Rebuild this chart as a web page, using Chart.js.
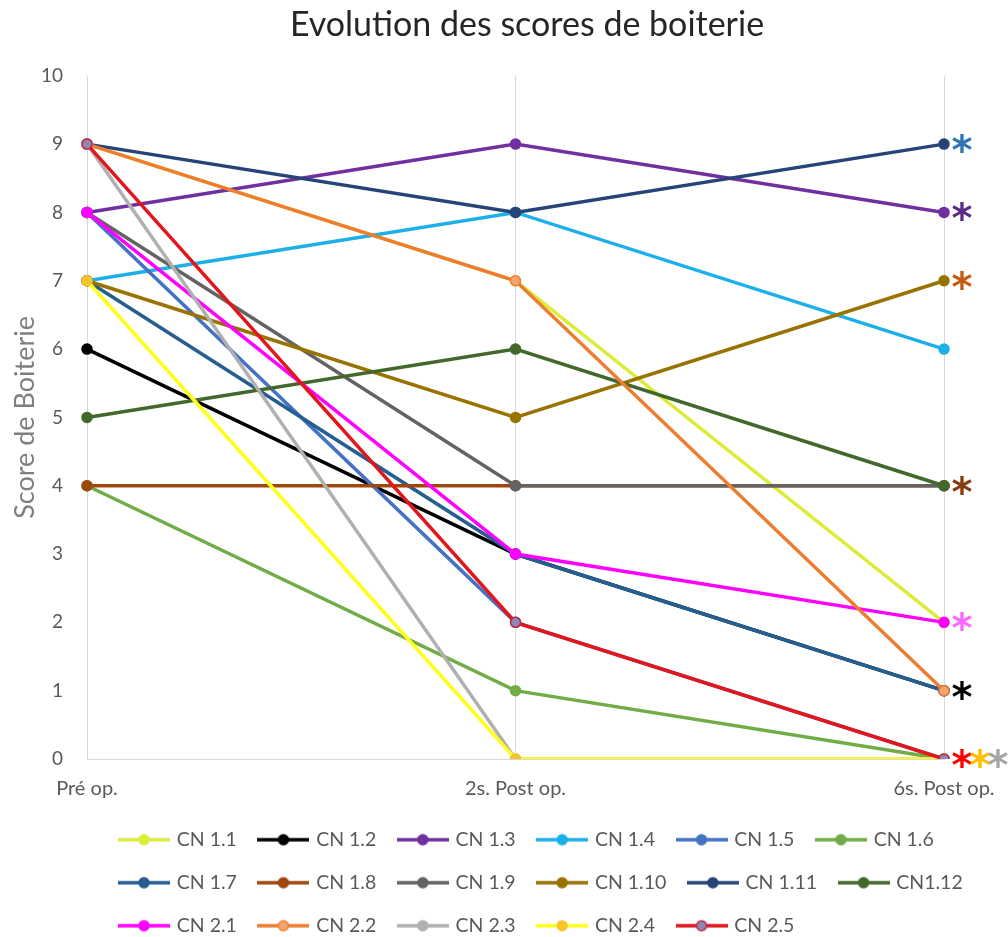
<!DOCTYPE html>
<html><head><meta charset="utf-8">
<script src="https://cdn.jsdelivr.net/npm/chart.js@4.4.1/dist/chart.umd.min.js"></script>
<style>html,body{margin:0;padding:0;background:#fff}#wrap{width:1008px;height:937px;position:relative}</style>
</head><body><div id="wrap"><canvas id="c"></canvas></div>
<script>
const categories = ['Pré op.', '2s. Post op.', '6s. Post op.'];
const seriesNames = ['CN 1.1','CN 1.2','CN 1.3','CN 1.4','CN 1.5','CN 1.6','CN 1.7','CN 1.8','CN 1.9','CN 1.10','CN 1.11','CN1.12','CN 2.1','CN 2.2','CN 2.3','CN 2.4','CN 2.5'];
const cn1_1  = [9, 7, 2];
const cn1_2  = [6, 3, 1];
const cn1_3  = [8, 9, 8];
const cn1_4  = [7, 8, 6];
const cn1_5  = [8, 2, 0];
const cn1_6  = [4, 1, 0];
const cn1_7  = [7, 3, 1];
const cn1_8  = [4, 4, 4];
const cn1_9  = [8, 4, 4];
const cn1_10 = [7, 5, 7];
const cn1_11 = [9, 8, 9];
const cn1_12 = [5, 6, 4];
const cn2_1  = [8, 3, 2];
const cn2_2  = [9, 7, 1];
const cn2_3  = [9, 0, 0];
const cn2_4  = [7, 0, 0];
const cn2_5  = [9, 2, 0];
const seriesValues = [cn1_1,cn1_2,cn1_3,cn1_4,cn1_5,cn1_6,cn1_7,cn1_8,cn1_9,cn1_10,cn1_11,cn1_12,cn2_1,cn2_2,cn2_3,cn2_4,cn2_5];
const lineColors    = ['#DDEC3A','#000000','#7030A0','#1DB0E8','#4472C4','#70AD47','#255E91','#9E480E','#636363','#997300','#264478','#43682B','#FF00FF','#ED7D31','#B0B0B0','#FFFF1A','#E3161B'];
const markerFills   = ['#DDEC3A','#000000','#7030A0','#1DB0E8','#4472C4','#70AD47','#255E91','#9E480E','#636363','#997300','#264478','#43682B','#FF00FF','#F4A46E','#B0B0B0','#F5C52A','#8F86B3'];
const markerBorders = ['#DDEC3A','#000000','#7030A0','#1DB0E8','#4472C4','#70AD47','#255E91','#9E480E','#636363','#997300','#264478','#43682B','#FF00FF','#ED7D31','#B0B0B0','#F5C52A','#C0264A'];
const yMin = 0, yMax = 10, yStep = 1;
const starValues = [9, 8, 7, 4, 2, 1, 0];
const starColors = [['#2E75B6'], ['#5B2A86'], ['#C55A11'], ['#843C0C'], ['#FF66FF'], ['#000000'], ['#FF0000', '#FFC000', '#A6A6A6']];

Chart.defaults.font.family = 'Lato, "Open Sans", sans-serif';

function legendIcon(i){
  const c = document.createElement('canvas');
  c.width = 52; c.height = 14;
  const g = c.getContext('2d');
  g.strokeStyle = lineColors[i]; g.lineWidth = 3.5;
  g.beginPath(); g.moveTo(0, 7); g.lineTo(52, 7); g.stroke();
  g.beginPath(); g.arc(26, 7, 5, 0, Math.PI * 2);
  g.fillStyle = markerFills[i]; g.fill();
  g.lineWidth = 1.5; g.strokeStyle = markerBorders[i]; g.stroke();
  return c;
}
const icons = seriesNames.map((n, i) => legendIcon(i));

const placeBlocks = {
  id: 'placeBlocks',
  afterLayout(chart){
    const lg = chart.legend;
    if (lg){ const h = lg.height; lg.left = 97.5; lg.right = 1008; lg.top = 806.5; lg.bottom = lg.top + h; }
    const tb = chart.titleBlock;
    if (tb){ tb.left = 46; tb.right = 1008; }
  }
};

const stars = {
  id: 'stars',
  afterDatasetsDraw(chart){
    const {ctx, scales: {x, y}} = chart;
    const px = x.getPixelForValue(categories.length - 1);
    const size = 40;
    ctx.save();
    ctx.font = 'bold ' + size + 'px "DejaVu Sans"';
    ctx.textAlign = 'center';
    ctx.textBaseline = 'alphabetic';
    starValues.forEach((v, k) => {
      const py = y.getPixelForValue(v);
      starColors[k].forEach((col, j) => {
        ctx.fillStyle = col;
        ctx.fillText('*', px + 18 + j * 18, py + 0.5 * size);
      });
    });
    ctx.restore();
  }
};

new Chart(document.getElementById('c'), {
  type: 'line',
  data: {
    labels: categories,
    datasets: seriesNames.map((name, i) => ({
      label: name,
      data: seriesValues[i],
      borderColor: lineColors[i],
      backgroundColor: markerFills[i],
      pointBackgroundColor: markerFills[i],
      pointBorderColor: markerBorders[i],
      pointBorderWidth: 1.5,
      pointRadius: 5,
      borderWidth: 3.5,
      tension: 0,
      fill: false,
      order: seriesNames.length - i
    }))
  },
  options: {
    responsive: true,
    maintainAspectRatio: false,
    animation: false,
    layout: { padding: { left: 0, right: 64, top: 0, bottom: -21 } },
    scales: {
      x: {
        offset: false,
        ticks: { color: '#595959', font: { size: 20 }, padding: 18, maxRotation: 0, autoSkip: false },
        grid: { display: true, color: '#D9D9D9', lineWidth: 1, drawTicks: false },
        border: { display: true, color: '#D9D9D9', width: 1 },
        afterFit(s){ s.paddingRight = 64; s.paddingLeft = 0; }
      },
      y: {
        min: yMin, max: yMax,
        ticks: { stepSize: yStep, padding: 24, color: '#595959', font: { size: 19 } },
        grid: { display: false, drawTicks: false },
        border: { display: false },
        title: { display: true, text: 'Score de Boiterie', color: '#7F7F7F', font: { size: 27 }, padding: { top: 9, bottom: 0 } },
        afterFit(s){ s.width = 87; }
      }
    },
    plugins: {
      title: { display: true, text: 'Evolution des scores de boiterie', color: '#262626', font: { size: 34, weight: 'normal' }, padding: { top: 5, bottom: 30 } },
      tooltip: { enabled: false },
      legend: {
        position: 'bottom',
        align: 'start',
        labels: {
          usePointStyle: true,
          pointStyleWidth: 46,
          padding: 23.5,
          color: '#595959',
          font: { size: 19.5 },
          generateLabels(chart){
            return chart.data.datasets.map((ds, i) => ({
              text: ds.label, fillStyle: ds.backgroundColor, strokeStyle: ds.borderColor,
              lineWidth: 0, pointStyle: icons[i], hidden: false, datasetIndex: i, fontColor: '#595959'
            }));
          }
        }
      }
    }
  },
  plugins: [placeBlocks, stars]
});
</script></body></html>
